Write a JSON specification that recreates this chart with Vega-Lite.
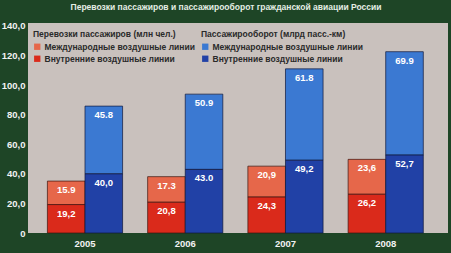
{
  "$schema": "https://vega.github.io/schema/vega-lite/v6.json",
  "width": 420,
  "height": 210,
  "autosize": "none",
  "padding": {"left": 28, "top": 23, "right": 3, "bottom": 20},
  "background": "#1e4526",
  "view": {"fill": "#c9c1bd", "stroke": null},
  "config": {
    "font": "Liberation Sans, Arial, sans-serif"
  },
  "title": {
    "text": "Перевозки пассажиров и пассажирооборот гражданской авиации России",
    "color": "#e4eee4",
    "fontSize": 8.5,
    "fontWeight": "bold",
    "font": "Liberation Sans, Arial, sans-serif",
    "anchor": "middle",
    "frame": "group",
    "dx": -12,
    "offset": 9
  },
  "data": {
    "values": [
      {"year": "2005", "group": "p", "series": "Международные воздушные линии", "value": 15.9, "label": "15.9"},
      {"year": "2005", "group": "p", "series": "Внутренние воздушные линии", "value": 19.2, "label": "19,2"},
      {"year": "2005", "group": "k", "series": "Международные воздушные линии", "value": 45.8, "label": "45.8"},
      {"year": "2005", "group": "k", "series": "Внутренние воздушные линии", "value": 40.0, "label": "40,0"},
      {"year": "2006", "group": "p", "series": "Международные воздушные линии", "value": 17.3, "label": "17.3"},
      {"year": "2006", "group": "p", "series": "Внутренние воздушные линии", "value": 20.8, "label": "20,8"},
      {"year": "2006", "group": "k", "series": "Международные воздушные линии", "value": 50.9, "label": "50.9"},
      {"year": "2006", "group": "k", "series": "Внутренние воздушные линии", "value": 43.0, "label": "43.0"},
      {"year": "2007", "group": "p", "series": "Международные воздушные линии", "value": 20.9, "label": "20,9"},
      {"year": "2007", "group": "p", "series": "Внутренние воздушные линии", "value": 24.3, "label": "24,3"},
      {"year": "2007", "group": "k", "series": "Международные воздушные линии", "value": 61.8, "label": "61.8"},
      {"year": "2007", "group": "k", "series": "Внутренние воздушные линии", "value": 49.2, "label": "49,2"},
      {"year": "2008", "group": "p", "series": "Международные воздушные линии", "value": 23.6, "label": "23,6"},
      {"year": "2008", "group": "p", "series": "Внутренние воздушные линии", "value": 26.2, "label": "26,2"},
      {"year": "2008", "group": "k", "series": "Международные воздушные линии", "value": 69.9, "label": "69.9"},
      {"year": "2008", "group": "k", "series": "Внутренние воздушные линии", "value": 52.7, "label": "52,7"}
    ]
  },
  "encoding": {
    "x": {
      "field": "year",
      "type": "ordinal",
      "scale": {"paddingInner": 0.25, "paddingOuter": 0.22, "align": 0.44},
      "axis": {
        "title": null,
        "labelAngle": 0,
        "labelColor": "#f2f2f2",
        "labelFontSize": 9.5,
        "labelFontWeight": "bold",
        "labelPadding": 5,
        "ticks": false,
        "domain": false,
        "grid": false
      }
    },
    "xOffset": {"field": "group", "type": "nominal", "scale": {"domain": ["p", "k"], "paddingInner": 0, "paddingOuter": 0}},
    "y": {
      "field": "value",
      "type": "quantitative",
      "stack": "zero",
      "scale": {"domain": [0, 142], "nice": false},
      "axis": {
        "title": null,
        "values": [0, 20, 40, 60, 80, 100, 120, 140],
        "labelExpr": "datum.value == 0 ? '0' : replace(format(datum.value, '.1f'), '.', ',')",
        "labelColor": "#f2f2f2",
        "labelFontSize": 9.5,
        "labelFontWeight": "bold",
        "labelPadding": 3,
        "ticks": false,
        "domain": false,
        "grid": false
      }
    },
    "order": {"field": "series", "sort": "ascending"}
  },
  "layer": [
    {
      "transform": [{"filter": "datum.group == 'p'"}],
      "mark": {"type": "bar", "stroke": "#3a1410", "strokeWidth": 1, "strokeOpacity": 0.7},
      "encoding": {
        "color": {
          "field": "series",
          "type": "nominal",
          "scale": {"domain": ["Международные воздушные линии", "Внутренние воздушные линии"], "range": ["#e6674a", "#da2a1b"]},
          "legend": {
            "title": "Перевозки пассажиров (млн чел.)",
            "orient": "none",
            "legendX": 5,
            "legendY": 7,
            "titleFontSize": 8.5,
            "titleFontWeight": "bold",
            "titleColor": "#2a2a2a",
            "titlePadding": 4,
            "titleLimit": 300,
            "labelFontSize": 8.5,
            "labelFontWeight": "bold",
            "labelColor": "#2a2a2a",
            "labelLimit": 300,
            "symbolType": "square",
            "symbolSize": 40,
            "symbolStrokeWidth": 0,
            "rowPadding": 3,
            "labelOffset": 3
          }
        }
      }
    },
    {
      "transform": [{"filter": "datum.group == 'p'"}],
      "mark": {"type": "text", "baseline": "top", "dy": 4, "color": "#ffffff", "fontSize": 9.5, "fontWeight": "bold"},
      "encoding": {
        "detail": {"field": "series"},
        "text": {"field": "label"}
      }
    },
    {
      "transform": [{"filter": "datum.group == 'k'"}],
      "mark": {"type": "bar", "stroke": "#10183a", "strokeWidth": 1, "strokeOpacity": 0.7},
      "encoding": {
        "color": {
          "field": "series",
          "type": "nominal",
          "scale": {"domain": ["Международные воздушные линии", "Внутренние воздушные линии"], "range": ["#3b79d2", "#2141a6"]},
          "legend": {
            "title": "Пассажирооборот (млрд пасс.-км)",
            "orient": "none",
            "legendX": 173,
            "legendY": 7,
            "titleFontSize": 8.5,
            "titleFontWeight": "bold",
            "titleColor": "#2a2a2a",
            "titlePadding": 4,
            "titleLimit": 300,
            "labelFontSize": 8.5,
            "labelFontWeight": "bold",
            "labelColor": "#2a2a2a",
            "labelLimit": 300,
            "symbolType": "square",
            "symbolSize": 40,
            "symbolStrokeWidth": 0,
            "rowPadding": 3,
            "labelOffset": 3
          }
        }
      }
    },
    {
      "transform": [{"filter": "datum.group == 'k'"}],
      "mark": {"type": "text", "baseline": "top", "dy": 4, "color": "#ffffff", "fontSize": 9.5, "fontWeight": "bold"},
      "encoding": {
        "detail": {"field": "series"},
        "text": {"field": "label"}
      }
    }
  ],
  "resolve": {"scale": {"color": "independent"}, "legend": {"color": "independent"}}
}
